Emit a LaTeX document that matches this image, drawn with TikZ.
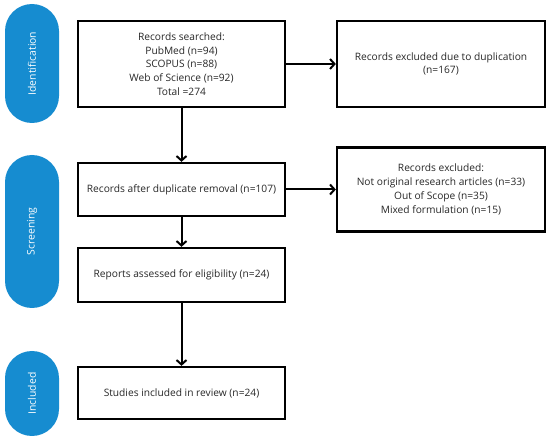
\documentclass[tikz,border=0pt]{standalone}
\usepackage{fontspec}
\setmainfont{Open Sans}
\usetikzlibrary{arrows.meta}
\definecolor{pillblue}{RGB}{22,140,208}
\definecolor{txt}{RGB}{40,40,40}
\tikzset{
  x=1pt,y=-1pt,
  box/.style={draw=black,line width=2.3pt,minimum width=207pt,align=center,font=\fontsize{10.2}{13.8}\selectfont,text=txt,inner sep=2pt},
  pill/.style={fill=pillblue,rounded corners=27pt,minimum height=54pt,rotate=90,text=white,font=\fontsize{10.4}{12}\selectfont},
  arr/.style={line width=2pt,-{Straight Barb[length=4.5pt,width=10pt,line width=2pt]}}
}
\begin{document}
\begin{tikzpicture}
\useasboundingbox[fill=white] (0,0) rectangle (550,441);
\node[pill,minimum width=119pt] (p1) at (32,63.5) {Identification};
\node[pill,minimum width=153pt] (p2) at (32,231.5) {Screening};
\node[pill,minimum width=85pt] (p3) at (32,393.5) {Included};
\node[box,minimum height=86pt] (b1) at (181.5,64) {Records searched:\\PubMed (n=94)\\SCOPUS (n=88)\\Web of Science (n=92)\\Total =274};
\node[box,minimum height=86pt,minimum width=208pt] (b2) at (441,64) {Records excluded due to duplication\\(n=167)};
\node[box,minimum height=53pt] (b3) at (181.5,189.5) {Records after duplicate removal (n=107)};
\node[box,minimum height=84pt,minimum width=208pt] (b4) at (441,189.5) {Records excluded:\\Not original research articles (n=33)\\Out of Scope (n=35)\\Mixed formulation (n=15)};
\node[box,minimum height=54pt] (b5) at (181.5,275) {Reports assessed for eligibility (n=24)};
\node[box,minimum height=52pt] (b6) at (181.5,393) {Studies included in review (n=24)};
\draw[arr] (b1) -- (b2);
\draw[arr] (b1) -- (b3);
\draw[arr] (b3) -- (b4);
\draw[arr] (b3) -- (b5);
\draw[arr] (b5) -- (b6);
\end{tikzpicture}
\end{document}
